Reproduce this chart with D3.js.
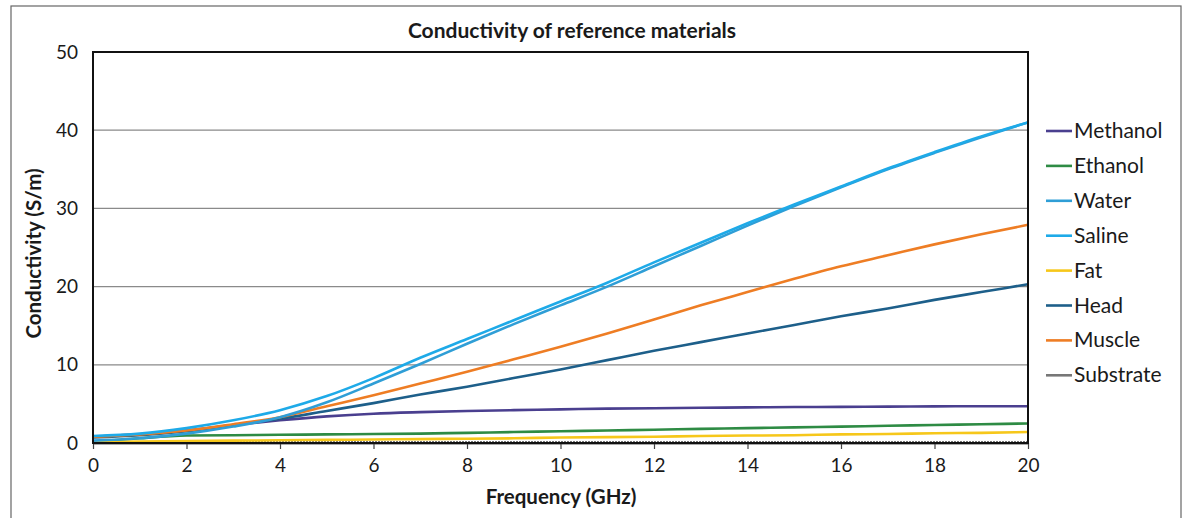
<!DOCTYPE html>
<html>
<head>
<meta charset="utf-8">
<script src="https://d3js.org/d3.v7.min.js"></script>
<style>
  body { margin: 0; background: #fff; }
  text { font-family: Lato, "Open Sans", sans-serif; fill: #1a1a1a; }
</style>
</head>
<body>
<svg width="1184" height="518"></svg>
<script>
// frequency points (GHz)
var freq = [0,1,2,3,4,5,6,7,8,9,10,11,12,13,14,15,16,17,18,19,20];

// conductivity (S/m)
var methanol  = [0.8,1.1,1.6,2.3,2.9,3.4,3.75,3.95,4.1,4.2,4.3,4.4,4.45,4.5,4.55,4.6,4.62,4.65,4.68,4.7,4.7];
var ethanol   = [0.1,0.6,0.95,1.0,1.05,1.1,1.15,1.2,1.3,1.4,1.5,1.6,1.7,1.8,1.9,2.0,2.1,2.2,2.3,2.4,2.5];
var water     = [0.3,0.6,1.2,2.1,3.3,5.2,7.6,10.1,12.7,15.2,17.6,20.0,22.6,25.2,27.8,30.3,32.7,35.0,37.1,39.1,41.0];
var saline    = [0.9,1.2,1.9,2.9,4.2,6.0,8.3,10.9,13.3,15.7,18.1,20.5,23.1,25.6,28.1,30.5,32.8,35.1,37.2,39.2,41.0];
var fat       = [0.1,0.2,0.25,0.3,0.35,0.4,0.45,0.5,0.55,0.6,0.7,0.75,0.8,0.9,0.95,1.0,1.1,1.15,1.25,1.3,1.4];
var head      = [0.7,1.0,1.5,2.3,3.1,4.1,5.1,6.2,7.2,8.3,9.4,10.6,11.8,12.9,14.0,15.1,16.2,17.2,18.3,19.3,20.3];
var muscle    = [0.8,1.1,1.6,2.4,3.3,4.7,6.1,7.6,9.1,10.7,12.3,14.0,15.8,17.6,19.3,21.0,22.6,24.0,25.4,26.7,27.9];
var substrate = [0.05,0.05,0.05,0.05,0.05,0.05,0.05,0.05,0.05,0.05,0.05,0.05,0.05,0.05,0.05,0.05,0.05,0.05,0.05,0.05,0.05];

var names  = ["Methanol","Ethanol","Water","Saline","Fat","Head","Muscle","Substrate"];
var colors = ["#4a3f8f","#2e8b44","#2f9ed6","#1eaae8","#f6c71a","#1d5f8a","#ee7d24","#777777"];
var yTicks = [0,10,20,30,40,50];
var xTicks = [0,2,4,6,8,10,12,14,16,18,20];

var series = [methanol, ethanol, water, saline, fat, head, muscle, substrate];

var svg = d3.select("svg"),
    margin = {left: 93, right: 156, top: 52, bottom: 75},
    width = +svg.attr("width") - margin.left - margin.right,
    height = +svg.attr("height") - margin.top - margin.bottom;

// outer frame of the chart area
svg.append("rect")
    .attr("x", 11).attr("y", 6)
    .attr("width", 1170).attr("height", 530)
    .attr("fill", "none")
    .attr("stroke", "#666")
    .attr("stroke-width", 1.2);

var x = d3.scaleLinear().domain([0, 20]).range([0, width]),
    y = d3.scaleLinear().domain([0, 50]).range([height, 0]);

var g = svg.append("g").attr("transform", "translate(" + margin.left + "," + margin.top + ")");

// gridlines
g.append("g")
    .selectAll("line")
    .data(yTicks.slice(1, -1))
    .enter().append("line")
    .attr("x1", 0).attr("x2", width)
    .attr("y1", function(d) { return y(d); })
    .attr("y2", function(d) { return y(d); })
    .attr("stroke", "#8a8a8a")
    .attr("stroke-width", 1.2);

// x axis
var xAxis = g.append("g")
    .attr("transform", "translate(0," + height + ")")
    .call(d3.axisBottom(x).tickValues(xTicks).tickSize(6).tickSizeOuter(0).tickPadding(10));
xAxis.select(".domain").attr("stroke", "#555").attr("stroke-width", 2);
xAxis.selectAll(".tick line").attr("stroke", "#444").attr("stroke-width", 1.2);
xAxis.selectAll("text").attr("font-size", "19px").attr("fill", "#1a1a1a");

// y axis labels
var yAxis = g.append("g")
    .call(d3.axisLeft(y).tickValues(yTicks).tickSize(0).tickPadding(15));
yAxis.select(".domain").remove();
yAxis.selectAll("text").attr("font-size", "19px").attr("fill", "#1a1a1a");

var line = d3.line()
    .curve(d3.curveMonotoneX)
    .x(function(d, i) { return x(freq[i]); })
    .y(function(d) { return y(d); });

// draw substrate first, others on top
var order = [7, 1, 4, 0, 5, 6, 2, 3];
order.forEach(function(k) {
  g.append("path")
      .datum(series[k])
      .attr("d", line)
      .attr("fill", "none")
      .attr("stroke", colors[k])
      .attr("stroke-width", k == 7 ? 3 : 2.6)
      .attr("stroke-dasharray", k == 7 ? "2,1" : null);
});

// plot frame
g.append("rect")
    .attr("width", width).attr("height", height)
    .attr("fill", "none")
    .attr("stroke", "#111")
    .attr("stroke-width", 2);

// titles
svg.append("text")
    .attr("x", 572).attr("y", 38)
    .attr("text-anchor", "middle")
    .attr("font-size", "21px")
    .attr("font-weight", "bold")
    .text("Conductivity of reference materials");

svg.append("text")
    .attr("x", 561).attr("y", 504)
    .attr("text-anchor", "middle")
    .attr("font-size", "20.5px")
    .attr("font-weight", "bold")
    .text("Frequency (GHz)");

svg.append("text")
    .attr("transform", "translate(41," + (margin.top + height / 2 + 6) + ") rotate(-90)")
    .attr("text-anchor", "middle")
    .attr("font-size", "20.5px")
    .attr("font-weight", "bold")
    .text("Conductivity (S/m)");

// legend
var legend = svg.append("g").attr("transform", "translate(1046,131)");
var item = legend.selectAll("g")
    .data(names)
    .enter().append("g")
    .attr("transform", function(d, i) { return "translate(0," + (i * 34.9) + ")"; });

item.append("line")
    .attr("x1", 0).attr("x2", 26)
    .attr("stroke", function(d, i) { return colors[i]; })
    .attr("stroke-width", 2.6);

item.append("text")
    .attr("x", 28).attr("y", 7)
    .attr("font-size", "21px")
    .text(function(d) { return d; });
</script>
</body>
</html>
